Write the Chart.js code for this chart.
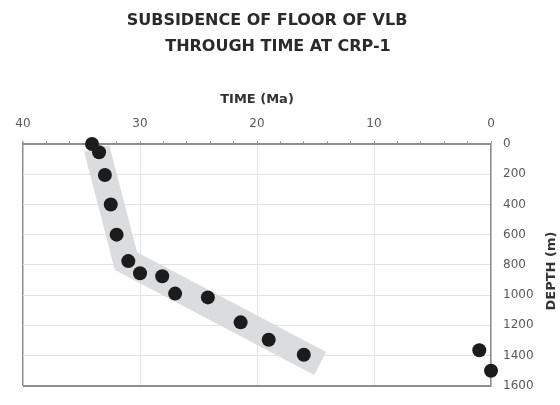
<!DOCTYPE html>
<html>
<head>
<meta charset="utf-8">
<title>Subsidence of floor of VLB</title>
<script src="https://cdn.jsdelivr.net/npm/chart.js@4/dist/chart.umd.min.js"></script>
<style>
  body { margin: 0; background: #fff; }
  canvas { display: block; }
</style>
</head>
<body>
<canvas id="grafico" width="560" height="405"></canvas>
<script>
// dados
const tempoMa = [34.1, 33.5, 33.0, 32.5, 32.0, 31.0, 30.0, 28.1, 27.0, 24.2, 21.4, 19.0, 16.0, 1.0, 0.0];
const profundidade = [0, 55, 205, 400, 600, 775, 855, 875, 990, 1015, 1180, 1295, 1395, 1365, 1500];

// faixa cinza (tendência)
const faixaTempo = [33.7, 31.2, 14.6];
const faixaProf = [30, 775, 1452];

const tituloLinhas = ['SUBSIDENCE OF FLOOR OF VLB', 'THROUGH TIME AT CRP-1'];
const tituloX = 'TIME (Ma)';
const tituloY = 'DEPTH (m)';

const FONTE = '"DejaVu Sans", sans-serif';
const CINZA_BORDA = '#8e8e8e';
const CINZA_GRADE = '#e4e4e4';

const pontos = tempoMa.map((t, i) => ({ x: t, y: profundidade[i] }));
const faixa = faixaTempo.map((t, i) => ({ x: t, y: faixaProf[i] }));

// ================== TEXTOS ==================
const textos = {
    id: 'textos',
    afterDraw(chart) {
        const ctx = chart.ctx;
        ctx.save();
        ctx.fillStyle = '#2a2a2a';
        ctx.textAlign = 'center';
        ctx.textBaseline = 'middle';
        ctx.font = 'bold 16px ' + FONTE;
        ctx.fillText(tituloLinhas[0], 267, 21);
        ctx.fillText(tituloLinhas[1], 278, 47);

        ctx.font = 'bold 13px ' + FONTE;
        ctx.fillStyle = '#333';
        ctx.translate(552, 271);
        ctx.rotate(-Math.PI / 2);
        ctx.fillText(tituloY, 0, 0);
        ctx.restore();
    }
};

new Chart(document.getElementById('grafico'), {
    type: 'scatter',
    data: {
        datasets: [
            {
                label: 'CRP-1',
                data: pontos,
                backgroundColor: '#1c1c1c',
                borderWidth: 0,
                pointRadius: 7,
                pointHoverRadius: 7,
                clip: false
            },
            {
                label: 'faixa',
                data: faixa,
                showLine: true,
                borderColor: '#dbdcde',
                borderWidth: 26,
                borderCapStyle: 'butt',
                borderJoinStyle: 'miter',
                pointRadius: 0,
                tension: 0
            }
        ]
    },
    options: {
        responsive: false,
        animation: false,
        layout: { padding: { top: 80, left: 23, right: 0, bottom: 5 } },
        plugins: {
            legend: { display: false },
            tooltip: { enabled: false }
        },
        scales: {
            x: {
                type: 'linear',
                position: 'top',
                reverse: true,
                min: 0,
                max: 40,
                afterFit: (escala) => { escala.height = 64; },
                ticks: {
                    stepSize: 2,
                    autoSkip: false,
                    maxRotation: 0,
                    padding: 10,
                    color: '#5a5a5a',
                    font: { family: FONTE, size: 12 },
                    callback: (v) => (v % 10 === 0 ? String(v) : '')
                },
                grid: {
                    tickLength: 3,
                    tickColor: '#9a9a9a',
                    color: (c) => {
                        const v = c.tick && c.tick.value;
                        if (v === 40) return CINZA_BORDA;
                        return v % 10 === 0 ? CINZA_GRADE : 'rgba(0,0,0,0)';
                    },
                    lineWidth: (c) => (c.tick && c.tick.value === 40 ? 1.5 : 1)
                },
                border: { color: CINZA_BORDA, width: 2 },
                title: {
                    display: true,
                    text: tituloX,
                    color: '#333',
                    font: { family: FONTE, size: 13, weight: 'bold' },
                    padding: { top: 12, bottom: 0 }
                }
            },
            y: {
                type: 'linear',
                position: 'right',
                reverse: true,
                min: 0,
                max: 1600,
                afterFit: (escala) => { escala.width = 69; },
                ticks: {
                    stepSize: 200,
                    padding: 12,
                    color: '#5a5a5a',
                    font: { family: FONTE, size: 12 },
                    callback: (v) => String(v)
                },
                grid: {
                    drawTicks: false,
                    color: (c) => (c.tick && c.tick.value === 1600 ? CINZA_BORDA : CINZA_GRADE),
                    lineWidth: (c) => (c.tick && c.tick.value === 1600 ? 2 : 1)
                },
                border: { color: CINZA_BORDA, width: 1.5 }
            }
        }
    },
    plugins: [textos]
});
</script>
</body>
</html>
